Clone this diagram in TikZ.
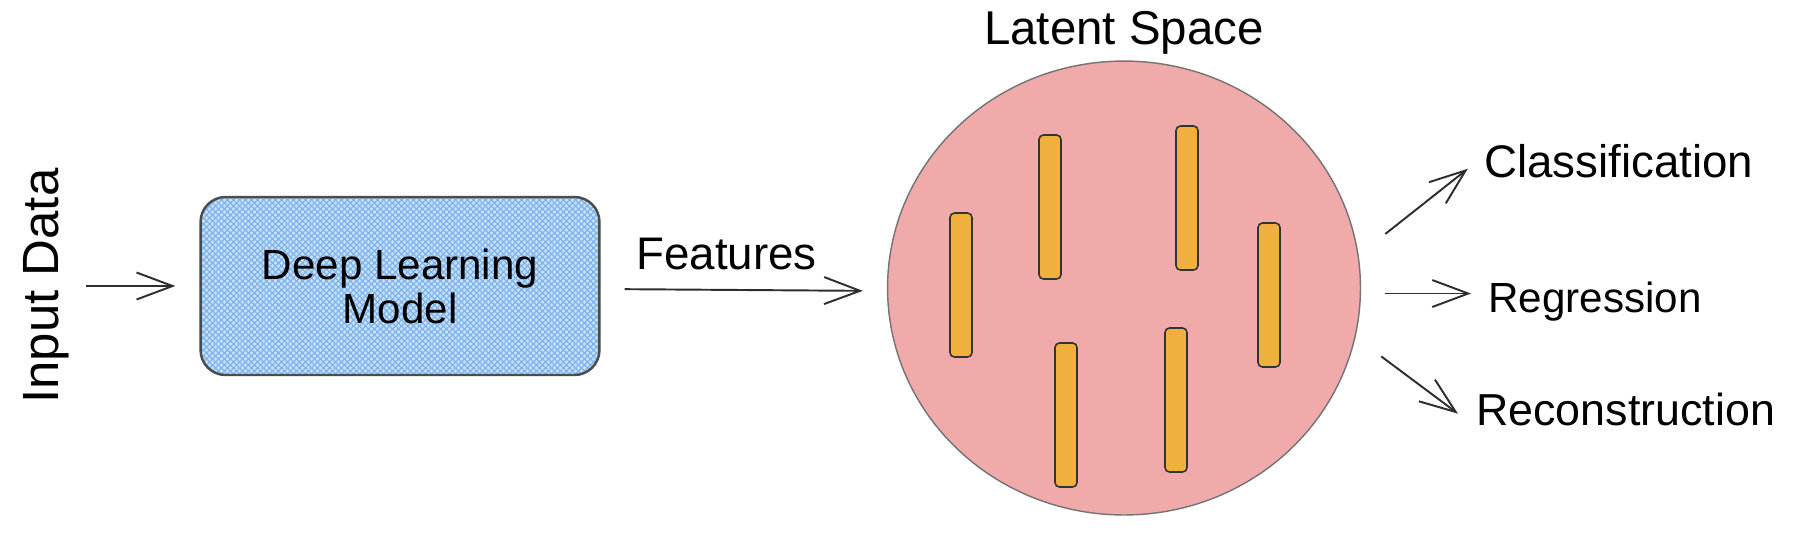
\documentclass[tikz,border=0pt]{standalone}
\usepackage{fontspec}
\setmainfont{Liberation Sans}
\usetikzlibrary{arrows.meta,positioning,calc,shapes.geometric}
\definecolor{inkgray}{RGB}{45,45,45}
\definecolor{hatchblue}{RGB}{118,172,232}
\definecolor{boxblue}{RGB}{194,222,250}
\definecolor{latentpink}{RGB}{240,170,170}
\definecolor{featorange}{RGB}{240,176,62}

\tikzset{
  lbl/.style={font=\fontsize{#1}{#1}\selectfont},
  lbl/.default=26,
  arr/.style={-{Straight Barb[length=0.72cm,width=0.54cm]},line width=1.1pt,draw=inkgray},
  modelbox/.style={draw=inkgray!85,line width=1.4pt,rounded corners=0.5cm,fill=boxblue,
    minimum width=7.98cm,minimum height=3.56cm,align=center,
    path picture={
      \foreach \k in {0,...,98}{
        \draw[hatchblue,line width=0.5pt] ($(path picture bounding box.north west)+(\k*0.12cm,0)$) -- ++(-4cm,-4cm);
        \draw[hatchblue,line width=0.5pt] ($(path picture bounding box.north west)+(\k*0.12cm-3.6cm,0)$) -- ++(4cm,-4cm);
      }
    }},
  latentball/.style={ellipse,draw=black!55,line width=0.8pt,fill=latentpink,
    minimum width=9.46cm,minimum height=9.08cm},
  featbar/.style={draw=black!80,line width=0.9pt,fill=featorange,rounded corners=2.5pt,
    minimum width=0.44cm,minimum height=2.88cm,inner sep=0pt},
}

\begin{document}
\begin{tikzpicture}[x=0.02cm,y=-0.02cm]
\useasboundingbox (0,0) rectangle (1794,556);

% input side
\node[lbl=29,rotate=90] (input) at (46,286) {Input Data};
\node[modelbox,font=\fontsize{24}{25}\selectfont] (model) at (400,286) {Deep Learning\\Model};
\draw[arr] ([xshift=0.8cm]input.center) -- ([xshift=-0.48cm]model.west);

% latent space
\node[latentball] (latent) at (1124,288) {};
\node[lbl=27,above=0pt of latent] (lsp) {Latent Space};
\foreach \x/\y [count=\i] in {961/285,1050/207,1187/198,1269/295,1066/415,1176/400}
  \node[featbar] (bar\i) at (\x,\y) {};

\draw[arr,shorten <=0.48cm,shorten >=0.48cm] ([yshift=-0.06cm]model.east) -- node[lbl=26,above=0.26cm,pos=0.44] (feat) {Features} ([yshift=-0.06cm]latent.west);

% tasks
\node[lbl=26,anchor=base west] (cls) at (1478,177) {Classification};
\node[lbl=24,anchor=base west] (reg) at (1482,312) {Regression};
\node[lbl=25.5,anchor=base west] (rec) at (1470,425) {Reconstruction};

\draw[arr,shorten <=0.68cm,shorten >=0.26cm] (latent.8) -- (cls.west);
\draw[arr,shorten <=0.48cm,shorten >=0.22cm] ([yshift=-0.11cm]latent.east) -- ([yshift=-0.11cm]latent.east -| reg.west);
\draw[arr,shorten <=0.64cm,shorten >=0.3cm] (latent.-12) -- (rec.185);
\end{tikzpicture}
\end{document}
